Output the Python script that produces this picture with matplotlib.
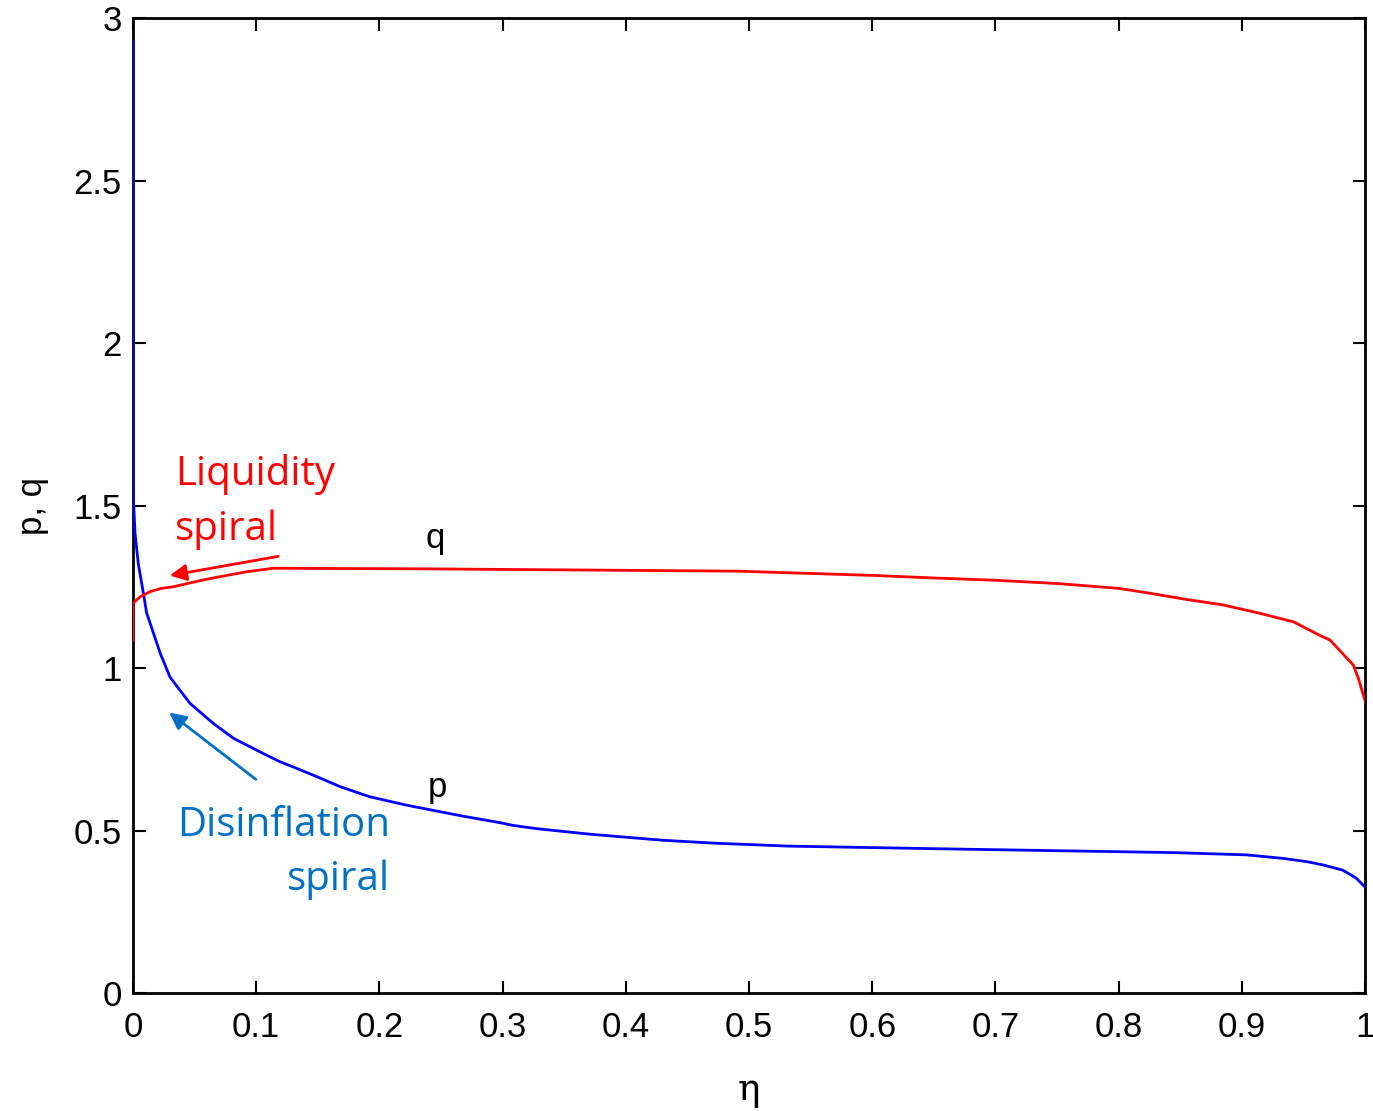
import matplotlib
matplotlib.use("Agg")
import matplotlib.pyplot as plt

# data
p_eta = [0, 0, 0.0016, 0.0043, 0.0084, 0.011, 0.0165, 0.022, 0.030, 0.038, 0.0463,
         0.065, 0.0814, 0.103, 0.119, 0.133, 0.149, 0.168, 0.192, 0.222, 0.249, 0.268,
         0.298, 0.308, 0.327, 0.347, 0.370, 0.398, 0.430, 0.472, 0.532, 0.651, 0.845,
         0.904, 0.934, 0.953, 0.966, 0.982, 0.993, 1.0]
p_val = [2.93, 1.55, 1.415, 1.32, 1.23, 1.17, 1.108, 1.046, 0.972, 0.932, 0.891,
         0.83, 0.784, 0.742, 0.712, 0.691, 0.666, 0.635, 0.604, 0.578, 0.558, 0.544,
         0.524, 0.516, 0.506, 0.498, 0.489, 0.480, 0.470, 0.461, 0.452, 0.444, 0.432,
         0.425, 0.414, 0.404, 0.394, 0.378, 0.353, 0.326]

q_eta = [0, 0, 0.0057, 0.0138, 0.023, 0.0327, 0.057, 0.0705, 0.092, 0.114, 0.24,
         0.49, 0.6, 0.65, 0.7, 0.75, 0.8, 0.8255, 0.855, 0.885, 0.915, 0.942, 0.9635,
         0.9716, 0.9905, 0.9946, 1.0]
q_val = [1.086, 1.199, 1.219, 1.235, 1.245, 1.25, 1.271, 1.281, 1.296, 1.307, 1.305,
         1.298, 1.285, 1.277, 1.27, 1.26, 1.245, 1.23, 1.211, 1.194, 1.168, 1.142, 1.10,
         1.086, 1.009, 0.968, 0.90]

x_ticks = [0, 0.1, 0.2, 0.3, 0.4, 0.5, 0.6, 0.7, 0.8, 0.9, 1]
x_ticklabels = ["0", "0.1", "0.2", "0.3", "0.4", "0.5", "0.6", "0.7", "0.8", "0.9", "1"]
y_ticks = [0, 0.5, 1, 1.5, 2, 2.5, 3]
y_ticklabels = ["0", "0.5", "1", "1.5", "2", "2.5", "3"]

fig = plt.figure(figsize=(13.73, 11.11), dpi=100)
ax = fig.add_axes([0.0969, 0.1062, 0.8973, 0.8776])

ax.plot(p_eta, p_val, color="#0000FF", lw=2, zorder=3)
ax.plot(q_eta, q_val, color="#FF0000", lw=2, zorder=3)

ax.set_xlim(0, 1)
ax.set_ylim(0, 3)
ax.set_xticks(x_ticks)
ax.set_xticklabels(x_ticklabels, fontfamily="Liberation Sans", fontsize=25)
ax.set_yticks(y_ticks)
ax.set_yticklabels(y_ticklabels, fontfamily="Liberation Sans", fontsize=25)
ax.tick_params(direction="in", length=9, width=1.5, top=True, right=True)
ax.tick_params(axis="x", pad=13)
ax.tick_params(axis="y", pad=8)
for s in ax.spines.values():
    s.set_linewidth(2)

ax.set_xlabel("η", fontsize=27, fontfamily="DejaVu Serif", labelpad=20)
ax.set_ylabel("p, q", fontsize=25, fontfamily="Liberation Sans", labelpad=18)

ann_font = "Open Sans"
ax.text(0.034, 1.563, "Liquidity", color="#FF0000", fontsize=29, fontfamily=ann_font,
        ha="left", va="baseline")
ax.text(0.034, 1.394, "spiral", color="#FF0000", fontsize=29, fontfamily=ann_font,
        ha="left", va="baseline")
ax.annotate("", xy=(0.0276, 1.283), xytext=(0.120, 1.345),
            arrowprops=dict(arrowstyle="-|>", color="#FF0000", lw=2, mutation_scale=25))

ax.text(0.2086, 0.483, "Disinflation", color="#0070C0", fontsize=29, fontfamily=ann_font,
        ha="right", va="baseline")
ax.text(0.2086, 0.317, "spiral", color="#0070C0", fontsize=29, fontfamily=ann_font,
        ha="right", va="baseline")
ax.annotate("", xy=(0.0276, 0.868), xytext=(0.1015, 0.652),
            arrowprops=dict(arrowstyle="-|>", color="#0070C0", lw=2, mutation_scale=25))

ax.text(0.245, 1.369, "q", fontsize=25, fontfamily="Liberation Sans", ha="center", va="baseline")
ax.text(0.247, 0.603, "p", fontsize=25, fontfamily="Liberation Sans", ha="center", va="baseline")

fig.savefig("out.png", dpi=100)
